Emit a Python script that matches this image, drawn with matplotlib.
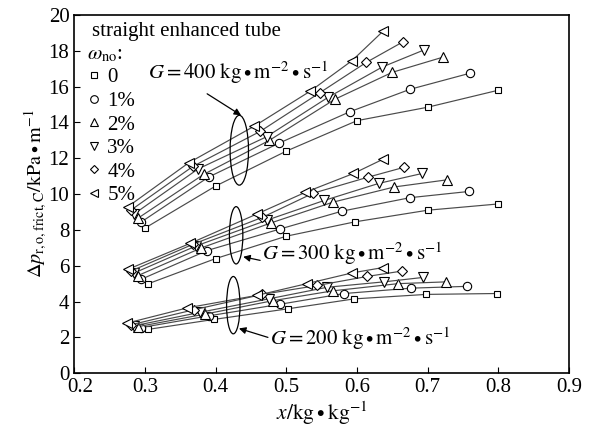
import matplotlib
matplotlib.use('Agg')
import matplotlib.pyplot as plt
import matplotlib.transforms as mtransforms
from matplotlib.patches import Ellipse
from matplotlib.lines import Line2D

plt.rcParams['font.family'] = ['Liberation Serif', 'DejaVu Serif']
plt.rcParams['mathtext.fontset'] = 'stix'

# oil mass fraction labels and markers
oil_labels = ['0', '1%', '2%', '3%', '4%', '5%']
markers = ['s', 'o', '^', 'v', 'D', '<']
msizes = [5, 6, 6.5, 6.5, 5, 6.5]

# G = 400 kg/(m2 s)
x_400 = [[0.30, 0.40, 0.50, 0.60, 0.70, 0.80],
         [0.295, 0.39, 0.49, 0.59, 0.675, 0.76],
         [0.29, 0.383, 0.476, 0.569, 0.65, 0.722],
         [0.285, 0.375, 0.472, 0.559, 0.636, 0.695],
         [0.28, 0.368, 0.463, 0.547, 0.613, 0.665],
         [0.276, 0.362, 0.455, 0.534, 0.593, 0.637]]
y_400 = [[8.1, 10.45, 12.4, 14.1, 14.85, 15.8],
         [8.45, 10.95, 12.85, 14.6, 15.85, 16.75],
         [8.65, 11.1, 13.0, 15.3, 16.8, 17.65],
         [8.9, 11.4, 13.2, 15.4, 17.1, 18.05],
         [9.1, 11.55, 13.5, 15.65, 17.35, 18.5],
         [9.3, 11.75, 13.8, 15.75, 17.45, 19.1]]

# G = 300 kg/(m2 s)
x_300 = [[0.305, 0.40, 0.50, 0.597, 0.70, 0.80],
         [0.295, 0.388, 0.491, 0.579, 0.675, 0.759],
         [0.29, 0.38, 0.479, 0.566, 0.653, 0.728],
         [0.285, 0.372, 0.473, 0.554, 0.631, 0.692],
         [0.28, 0.368, 0.466, 0.538, 0.616, 0.667],
         [0.276, 0.364, 0.459, 0.527, 0.595, 0.637]]
y_300 = [[5.0, 6.4, 7.65, 8.45, 9.1, 9.45],
         [5.25, 6.85, 8.05, 9.05, 9.8, 10.15],
         [5.45, 7.0, 8.4, 9.55, 10.4, 10.8],
         [5.6, 7.1, 8.55, 9.65, 10.6, 11.15],
         [5.7, 7.2, 8.7, 10.05, 10.95, 11.5],
         [5.8, 7.25, 8.9, 10.1, 11.15, 11.95]]

# G = 200 kg/(m2 s)
x_200 = [[0.305, 0.397, 0.503, 0.596, 0.698, 0.798],
         [0.295, 0.39, 0.491, 0.582, 0.677, 0.756],
         [0.29, 0.385, 0.481, 0.566, 0.658, 0.726],
         [0.285, 0.378, 0.475, 0.558, 0.638, 0.694],
         [0.28, 0.37, 0.466, 0.544, 0.614, 0.663],
         [0.275, 0.36, 0.459, 0.529, 0.593, 0.637]]
y_200 = [[2.45, 3.0, 3.6, 4.15, 4.4, 4.45],
         [2.55, 3.2, 3.85, 4.45, 4.75, 4.85],
         [2.6, 3.3, 4.05, 4.6, 5.0, 5.1],
         [2.65, 3.4, 4.15, 4.8, 5.1, 5.35],
         [2.7, 3.55, 4.4, 4.9, 5.4, 5.7],
         [2.8, 3.65, 4.35, 5.0, 5.6, 5.9]]

fig = plt.figure(figsize=(5.94, 4.28), dpi=100)
ax = fig.add_axes([0.125, 0.128, 0.833, 0.837])

for xs, ys in [(x_400, y_400), (x_300, y_300), (x_200, y_200)]:
    for i in range(6):
        ax.plot(xs[i], ys[i], color='#4a4a4a', lw=0.85, marker=markers[i],
                ms=msizes[i], mfc='white', mec='black', mew=0.8)

# ellipses and arrows for the three mass fluxes
ax.add_patch(Ellipse((0.4335, 12.45), 0.026, 3.9, fill=False, ec='black', lw=0.9, zorder=5))
ax.add_patch(Ellipse((0.429, 7.7), 0.019, 3.2, fill=False, ec='black', lw=0.9, zorder=5))
ax.add_patch(Ellipse((0.425, 3.8), 0.019, 3.2, fill=False, ec='black', lw=0.9, zorder=5))

arrow = dict(arrowstyle='-|>', color='black', lw=0.9, mutation_scale=10, shrinkA=0, shrinkB=0)
ax.annotate('', xy=(0.436, 14.4), xytext=(0.388, 15.6), arrowprops=arrow)
ax.annotate('', xy=(0.439, 6.5), xytext=(0.463, 6.3), arrowprops=arrow)
ax.annotate('', xy=(0.433, 2.5), xytext=(0.474, 2.0), arrowprops=arrow)

ax.text(0.305, 16.8, r'$G=400\ \mathrm{kg}\bullet\mathrm{m}^{-2}\bullet\mathrm{s}^{-1}$',
        fontsize=15, ha='left', va='center')
ax.text(0.466, 6.7, r'$G=300\ \mathrm{kg}\bullet\mathrm{m}^{-2}\bullet\mathrm{s}^{-1}$',
        fontsize=15, ha='left', va='center')
ax.text(0.477, 1.95, r'$G=200\ \mathrm{kg}\bullet\mathrm{m}^{-2}\bullet\mathrm{s}^{-1}$',
        fontsize=15, ha='left', va='center')

# legend block
ax.text(0.036, 0.955, 'straight enhanced tube', transform=ax.transAxes,
        fontsize=15, ha='left', va='center')
ax.text(0.025, 0.888, r'$\omega_{\mathrm{no}}$:', transform=ax.transAxes,
        fontsize=15, ha='left', va='center')
handles = [Line2D([], [], ls='none', marker=markers[i], ms=msizes[i] - 0.5, mfc='white',
                  mec='black', mew=0.8) for i in range(6)]
ax.legend(handles, oil_labels, loc='upper left', bbox_to_anchor=(-0.005, 0.893),
          frameon=False, fontsize=15, handlelength=0.7, handletextpad=0.3,
          labelspacing=0.19, borderpad=0.2)

ax.set_xlim(0.2, 0.9)
ax.set_ylim(0, 20)
ax.set_xticks([0.2, 0.3, 0.4, 0.5, 0.6, 0.7, 0.8, 0.9])
ax.set_xticklabels(['0.2', '0.3', '0.4', '0.5', '0.6', '0.7', '0.8', '0.9'])
ax.set_yticks(range(0, 21, 2))
ax.tick_params(direction='in', labelsize=15, length=4, top=False, right=False)
# the first x label sits a little to the right, clear of the y "0"
first = ax.get_xticklabels()[0]
first.set_transform(first.get_transform() +
                    mtransforms.ScaledTranslation(6 / 100, 0, fig.dpi_scale_trans))
for s in ax.spines.values():
    s.set_linewidth(1.2)

ax.set_xlabel(r'$x/\mathrm{kg}\bullet\mathrm{kg}^{-1}$', fontsize=15.5, labelpad=2)
ax.set_ylabel(r'$\Delta p_{\mathrm{r,o,frict,C}}/\mathrm{kPa}\bullet\mathrm{m}^{-1}$',
              fontsize=14.5, labelpad=0)

fig.savefig('out.png', dpi=100)
